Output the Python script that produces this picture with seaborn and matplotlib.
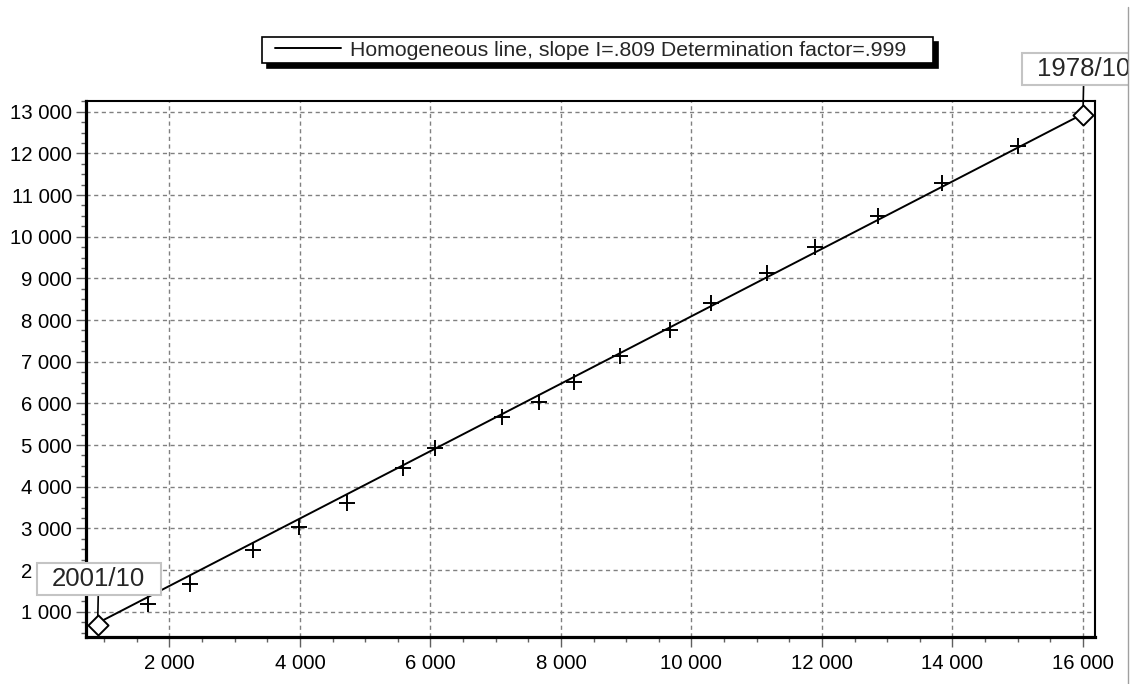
import numpy as np
import pandas as pd
import matplotlib
matplotlib.use("Agg")
import matplotlib.pyplot as plt
from matplotlib.ticker import MultipleLocator, FuncFormatter
from matplotlib.lines import Line2D
from matplotlib.patches import Rectangle
from matplotlib.path import Path
from matplotlib.legend_handler import HandlerLine2D
import seaborn as sns

# Double mass curve: cumulated reference series (x) against cumulated tested series (y)
cum_reference = [900, 1667, 2316, 3286, 3991, 4717, 5575, 6075, 7093, 7669,
                 8201, 8906, 9672, 10300, 11154, 11894, 12864, 13845, 15010, 16000]
cum_tested = [681, 1185, 1658, 2481, 3040, 3616, 4441, 4921, 5665, 6040,
              6520, 7136, 7760, 8415, 9135, 9745, 10503, 11281, 12176, 12920]
first_label = "2001/10"
last_label = "1978/10"
slope = 0.809
determination = 0.999


def short(v):
    return f"{v:.3f}".lstrip("0")


legend_text = (f"Homogeneous line, slope I={short(slope)} "
               f"Determination factor={short(determination)}")

sns.set_theme(style="white")
plt.rcParams["font.family"] = ["Liberation Sans", "DejaVu Sans"]

W, H = 1133, 684
fig = plt.figure(figsize=(W / 100, H / 100), dpi=100)
fig.patch.set_facecolor("white")
ax = fig.add_axes([86 / W, 1 - 637 / H, (1095 - 86) / W, (637 - 101) / H])
ax.set_facecolor("white")

df = pd.DataFrame({"x": cum_reference, "y": cum_tested})

# homogeneous line through the origin, spanning the first to the last point
fit_x = np.array([df["x"].iloc[0], df["x"].iloc[-1]], dtype=float)
sns.lineplot(x=fit_x, y=slope * fit_x, color="black", linewidth=1.4,
             ax=ax, zorder=3, label=legend_text)

# intermediate points
sns.scatterplot(data=df.iloc[1:-1], x="x", y="y", marker="+", s=120,
                color="black", linewidth=1.4, ax=ax, zorder=4, legend=False)
# first and last points
sns.scatterplot(data=df.iloc[[0, -1]], x="x", y="y", marker="D", s=105,
                facecolor="white", edgecolor="black", linewidth=1.4,
                ax=ax, zorder=7, legend=False)

ax.set_xlim(722, 16185)
ax.set_ylim(393, 13256)
ax.set_xlabel("")
ax.set_ylabel("")

ax.xaxis.set_major_locator(MultipleLocator(2000))
ax.xaxis.set_minor_locator(MultipleLocator(500))
ax.yaxis.set_major_locator(MultipleLocator(1000))
ax.yaxis.set_minor_locator(MultipleLocator(250))
thousands = FuncFormatter(lambda v, p: f"{int(round(v)):,}".replace(",", " "))
ax.xaxis.set_major_formatter(thousands)
ax.yaxis.set_major_formatter(thousands)

ax.tick_params(which="both", bottom=True, left=True, top=False, right=False,
               direction="out", color="#606060", width=1.0)
ax.tick_params(which="major", length=7, labelsize=14.7, labelcolor="black")
ax.tick_params(which="minor", length=3.5)
ax.tick_params(axis="y", which="major", pad=3)
ax.tick_params(axis="x", which="major", pad=5)

ax.grid(which="major", color="#808080", linestyle=(0, (3, 2.5)), linewidth=1.0)
ax.set_axisbelow(True)

for side, lw in (("left", 2.3), ("bottom", 2.3), ("top", 1.5), ("right", 1.5)):
    ax.spines[side].set_visible(True)
    ax.spines[side].set_color("black")
    ax.spines[side].set_linewidth(lw)


def label_box(x0, y0, width, height, mutation_size):
    px, py = 0.6 * mutation_size, 0.14 * mutation_size
    xa, xb = x0 - px, x0 + width + px
    ya, yb = y0 - py, y0 + height + py
    return Path([(xa, ya), (xb, ya), (xb, yb), (xa, yb), (xa, ya)],
                [Path.MOVETO, Path.LINETO, Path.LINETO, Path.LINETO, Path.CLOSEPOLY])


box_props = dict(boxstyle=label_box, facecolor="white", edgecolor="#c4c4c4", linewidth=1.5)
arrow_props = dict(arrowstyle="-", color="black", lw=1.2, shrinkA=0, shrinkB=0)
for idx, text in ((0, first_label), (-1, last_label)):
    ax.annotate(text, xy=(df["x"].iloc[idx], df["y"].iloc[idx]), xytext=(1, 46),
                textcoords="offset pixels", ha="center", va="center",
                fontsize=18.5, bbox=box_props, arrowprops=arrow_props,
                annotation_clip=False, zorder=6)

leg = ax.legend(loc="center", bbox_to_anchor=(262 / W, 1 - 63.5 / H, 671 / W, 26.8 / H),
                bbox_transform=fig.transFigure, mode="expand", borderaxespad=0,
                frameon=True, fancybox=False,
                shadow={"ox": 3.5, "oy": -3.5, "color": "black", "alpha": 1},
                fontsize=15.3, handlelength=3.59, handletextpad=0.4, borderpad=0.15,
                handler_map={Line2D: HandlerLine2D(xpad=0.44)})
leg.get_frame().set_edgecolor("black")
leg.get_frame().set_linewidth(1.2)
leg.get_frame().set_alpha(1)

# right-hand border of the chart panel
fig.add_artist(Rectangle((1128.5 / W, 0), 1 - 1128.5 / W, 1, transform=fig.transFigure,
                         facecolor="white", edgecolor="none", zorder=10))
fig.add_artist(Line2D([1127.5 / W, 1127.5 / W], [0, 1 - 7 / H], transform=fig.transFigure,
                      color="#a0a0a0", linewidth=1.0, zorder=11))

fig.savefig("out.png", dpi=100)
